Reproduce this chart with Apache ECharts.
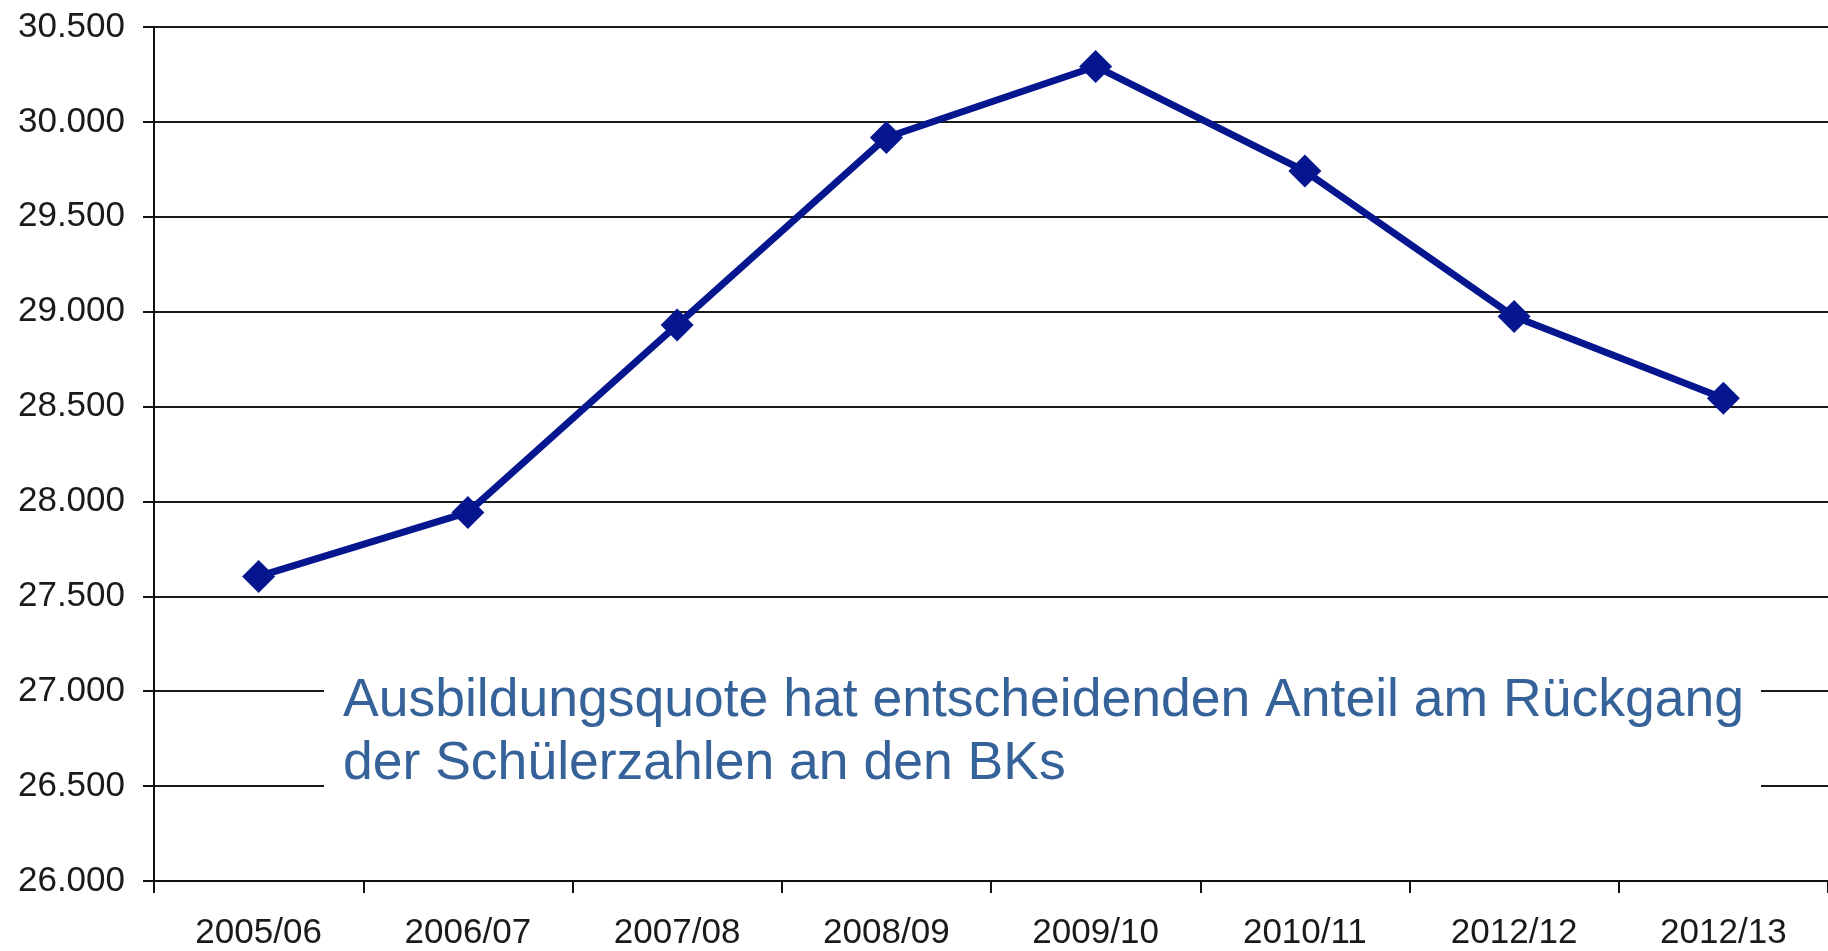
<!DOCTYPE html>
<html>
<head>
<meta charset="UTF-8">
<title>Schülerzahlen</title>
<script type="text/javascript" src="https://cdn.jsdelivr.net/npm/echarts@6/dist/echarts.min.js"></script>
<style>
html,body{margin:0;padding:0;background:#fff;}
</style>
</head>
<body>
<div id="box" style="width:1828px;height:951px;"></div>

<script type="text/javascript">
// Schuljahre
var years=['2005/06','2006/07','2007/08','2008/09','2009/10','2010/11','2012/12','2012/13'];
// Werte
var values=[27605,27942,28930,29918,30292,29741,28974,28544];
// Achse
var yMin=26000;
var yMax=30500;
var yStep=500;
// Hinweistext
var noteLines=['Ausbildungsquote hat entscheidenden Anteil am Rückgang','der Schülerzahlen an den BKs'];

var fontName='"Liberation Sans", Arial, sans-serif';
var mychart=echarts.init(document.getElementById('box'));

mychart.setOption({
    animation:false,
    grid:{left:154,right:-6,top:27,bottom:68},
    xAxis:{
      type:'category',
      data:years,
      boundaryGap:true,
      axisLine:{lineStyle:{color:'#111',width:2}},
      axisTick:{show:true,length:12,lineStyle:{color:'#111',width:2}},
      axisLabel:{color:'#1a1a1a',fontSize:35,fontFamily:fontName,margin:35}
    },
    yAxis:{
      type:'value',
      min:yMin,
      max:yMax,
      interval:yStep,
      axisLine:{show:true,lineStyle:{color:'#111',width:2}},
      axisTick:{show:true,length:11,lineStyle:{color:'#111',width:2}},
      axisLabel:{
        color:'#1a1a1a',fontSize:35,fontFamily:fontName,margin:29,
        formatter:function(v){return (v/1000).toFixed(3);}
      },
      splitLine:{show:true,lineStyle:{color:'#1a1a1a',width:2}}
    },
    series:[{
      type:'line',
      data:values,
      symbol:'diamond',
      symbolSize:33,
      lineStyle:{color:'#06168f',width:7},
      itemStyle:{color:'#06168f'}
    }],
    graphic:[{
      type:'rect',
      shape:{x:324,y:640,width:1437,height:192},
      style:{fill:'#fff'},
      z:100
    },{
      type:'text',
      x:343,
      y:701,
      style:{text:noteLines[0],fill:'#36629a',font:'53.5px '+fontName,verticalAlign:'middle'},
      z:101
    },{
      type:'text',
      x:343,
      y:764,
      style:{text:noteLines[1],fill:'#36629a',font:'53.5px '+fontName,verticalAlign:'middle'},
      z:101
    }]
});
</script>
</body>
</html>
